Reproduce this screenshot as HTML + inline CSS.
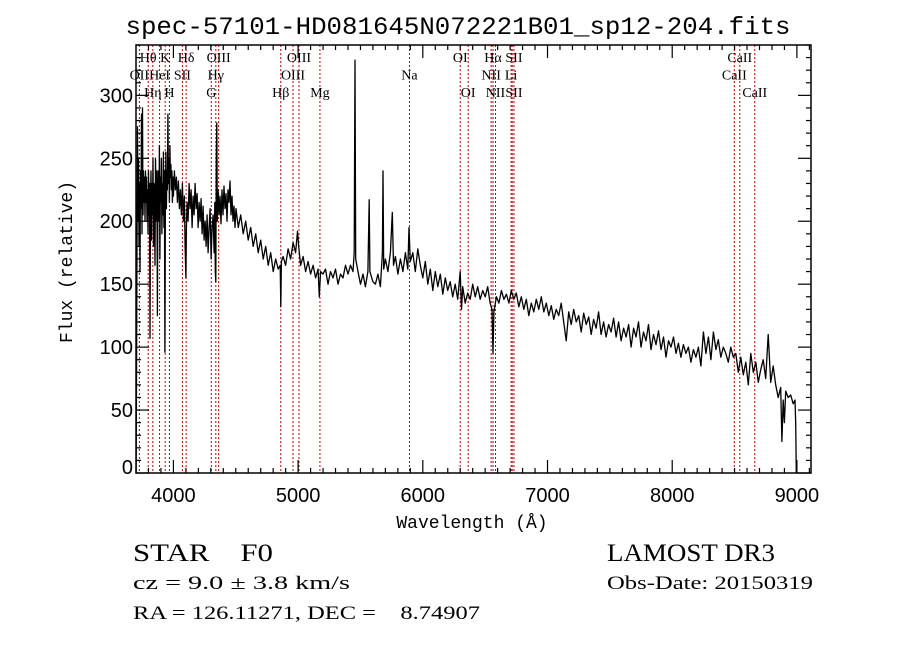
<!DOCTYPE html>
<html><head><meta charset="utf-8"><style>
html,body{margin:0;padding:0;background:#fff;width:900px;height:649px;overflow:hidden}
svg text{fill:#000}
.ser{font-family:"Liberation Serif",serif}
.san{font-family:"Liberation Sans",sans-serif}
.mon{font-family:"Liberation Mono",monospace}
</style></head><body>
<svg id="chart" width="900" height="649" viewBox="0 0 900 649" xmlns="http://www.w3.org/2000/svg">
<text class="mon" x="458" y="34" font-size="25" text-anchor="middle" textLength="665" lengthAdjust="spacingAndGlyphs">spec-57101-HD081645N072221B01_sp12-204.fits</text>
<g id="lines"></g>
<g id="labels"></g>
<path id="spec" fill="none" stroke="#000" stroke-width="1.3" stroke-linejoin="round"/>
<g id="axes"></g>
<rect x="136" y="45" width="675" height="428" fill="none" stroke="#000" stroke-width="1.5"/>
<text class="mon" x="472" y="528" font-size="18" text-anchor="middle">Wavelength (Å)</text>
<text class="mon" font-size="18" text-anchor="middle" transform="translate(72,262) rotate(-90)">Flux (relative)</text>
<text class="ser" x="133" y="561" font-size="25" xml:space="preserve" textLength="140" lengthAdjust="spacingAndGlyphs">STAR    F0</text>
<text class="ser" x="607" y="561" font-size="25" textLength="168" lengthAdjust="spacingAndGlyphs">LAMOST DR3</text>
<text class="ser" x="133" y="589" font-size="19" textLength="217" lengthAdjust="spacingAndGlyphs">cz = 9.0 ± 3.8 km/s</text>
<text class="ser" x="607" y="589" font-size="19" textLength="206" lengthAdjust="spacingAndGlyphs">Obs-Date: 20150319</text>
<text class="ser" x="133" y="619" font-size="19" xml:space="preserve" textLength="347" lengthAdjust="spacingAndGlyphs">RA = 126.11271, DEC =    8.74907</text>
</svg>
<script>
const lam = [3701,3704,3708,3712,3716,3720,3724,3728,3732,3736,3740,3744,3748,3752,3756,3760,3764,3768,3772,3776,3780,3784,3788,3792,3796,3800,3804,3808,3812,3816,3820,3824,3828,3832,3836,3840,3844,3848,3852,3856,3860,3864,3868,3872,3876,3880,3884,3888,3892,3896,3900,3904,3908,3912,3916,3920,3924,3928,3932,3936,3940,3944,3948,3952,3956,3960,3964,3968,3972,3976,3980,3984,3988,3992,3996,4000,4008,4016,4024,4032,4040,4048,4056,4064,4072,4080,4088,4094,4100,4104,4110,4118,4126,4134,4142,4150,4158,4166,4174,4182,4190,4198,4206,4214,4222,4230,4238,4246,4254,4262,4270,4278,4286,4294,4302,4310,4318,4326,4332,4336,4340,4344,4348,4352,4358,4366,4374,4382,4390,4398,4406,4414,4422,4430,4438,4446,4454,4462,4470,4478,4486,4494,4502,4520,4540,4560,4580,4600,4620,4640,4660,4680,4700,4720,4740,4760,4780,4800,4820,4840,4856,4861,4866,4880,4900,4920,4940,4960,4980,4995,5005,5020,5040,5060,5080,5100,5120,5140,5160,5170,5180,5200,5220,5240,5260,5280,5300,5320,5340,5360,5380,5400,5420,5440,5450,5456,5462,5480,5500,5520,5540,5560,5570,5576,5600,5620,5640,5660,5676,5681,5686,5700,5720,5740,5755,5765,5780,5800,5820,5840,5860,5880,5889,5900,5920,5940,5960,5980,6000,6020,6040,6060,6080,6100,6120,6140,6160,6180,6200,6220,6240,6260,6280,6300,6310,6320,6340,6360,6380,6400,6420,6440,6460,6480,6500,6520,6540,6555,6563,6570,6590,6610,6630,6650,6670,6690,6710,6730,6750,6770,6790,6810,6830,6850,6870,6890,6910,6930,6950,6970,6990,7010,7030,7050,7070,7090,7110,7130,7150,7170,7190,7210,7230,7250,7270,7290,7310,7330,7350,7370,7390,7410,7430,7450,7470,7490,7510,7530,7550,7570,7590,7610,7630,7650,7670,7690,7710,7730,7750,7770,7790,7810,7830,7850,7870,7890,7910,7930,7950,7970,7990,8010,8030,8050,8070,8090,8110,8130,8150,8170,8190,8210,8230,8250,8270,8290,8310,8330,8350,8370,8390,8410,8430,8450,8470,8490,8510,8530,8550,8570,8590,8610,8630,8650,8670,8690,8710,8730,8750,8770,8790,8810,8830,8850,8870,8880,8890,8900,8910,8930,8950,8970,8985,8990,8995];
const flux = [0,72,180,275,200,250,180,230,160,240,210,285,190,290,205,240,215,235,200,240,215,235,200,225,190,240,205,230,107,215,240,185,230,205,250,180,230,215,165,250,225,200,240,125,220,240,200,260,170,235,215,250,190,230,205,255,195,240,96,220,255,210,240,225,285,230,250,215,260,235,245,225,240,215,235,220,240,225,235,215,232,210,225,205,230,200,220,180,155,195,215,200,230,210,225,195,220,205,230,210,222,195,215,200,218,190,212,185,200,180,205,175,195,210,170,195,205,175,215,160,152,250,278,200,225,205,220,198,225,205,228,210,222,200,225,215,232,205,220,200,212,195,210,195,205,190,200,185,195,180,190,175,185,170,180,165,175,160,170,162,165,132,168,172,165,178,170,183,175,192,180,165,172,160,168,158,165,155,162,140,160,158,162,150,160,155,162,150,158,155,165,158,165,160,175,328,170,160,150,158,148,160,217,160,152,150,158,148,175,240,162,170,160,175,207,165,172,158,170,160,175,162,195,168,175,160,178,165,155,168,150,162,145,160,148,158,142,155,145,152,140,150,138,160,130,148,135,143,138,150,140,148,138,145,140,148,135,130,95,128,140,135,145,138,142,135,145,138,143,132,140,130,138,125,135,128,138,130,140,128,135,125,133,122,130,125,135,120,105,128,118,130,120,125,112,127,118,124,110,122,115,128,110,120,108,118,112,123,108,120,105,115,108,118,100,115,108,120,100,112,105,118,98,110,102,113,98,108,92,105,100,108,95,103,92,102,95,100,88,98,92,100,85,112,95,108,90,112,98,106,92,100,95,88,100,92,95,80,92,78,88,70,95,80,88,72,82,90,75,110,72,85,70,60,68,25,58,40,65,60,62,55,58,40,0];
const lineWaves = [3727,3798,3835,3889,3934,3968,4072,4102,4304,4340,4363,4861,4959,5007,5175,5893,6300,6364,6548,6563,6583,6708,6717,6731,8498,8542,8662];
const labelTexts = ["Hθ","K","Hδ","OIII","OIII","OI","Hα","SII","CaII","OII","HeI","SII","Hγ","OIII","Na","NII","Li","CaII","Hη","H","G","Hβ","Mg","OI","NII","SII","CaII"];
const labelWaves = [3798,3934,4102,4363,5007,6300,6563,6731,8542,3727,3889,4072,4340,4959,5893,6548,6708,8498,3835,3968,4304,4861,5175,6364,6583,6731,8662];
const labelRows = [0,0,0,0,0,0,0,0,0,1,1,1,1,1,1,1,1,1,2,2,2,2,2,2,2,2,2];
const yTicks = [0,50,100,150,200,250,300];
const xTicks = [4000,5000,6000,7000,8000,9000];

const X0=136,X1=811,Y0=473,Y1=45,LMIN=3700,LMAX=9113,FMIN=0,FMAX=340;
const xs = l => X0+(l-LMIN)/(LMAX-LMIN)*(X1-X0);
const ys = f => Y0-(f-FMIN)/(FMAX-FMIN)*(Y0-Y1);
const NS="http://www.w3.org/2000/svg";
function mk(tag,parent){const e=document.createElementNS(NS,tag);parent.appendChild(e);return e;}

let d="";
lam.forEach((l,i)=>{d+=(i?"L":"M")+xs(l).toFixed(1)+","+ys(flux[i]).toFixed(1);});
document.getElementById("spec").setAttribute("d",d);

const gl=document.getElementById("lines");
lineWaves.forEach(w=>{
  const e=mk("line",gl);
  
  
  e.setAttribute("x1",xs(w));e.setAttribute("x2",xs(w));
  e.setAttribute("y1",Y1);e.setAttribute("y2",Y0);
  e.setAttribute("stroke","#c00000");e.setAttribute("stroke-width","1");
  e.setAttribute("stroke-dasharray","2,2");
});
const glb=document.getElementById("labels");
labelTexts.forEach((t,i)=>{
  const e=mk("text",glb);
  
  
  e.setAttribute("class","ser");
  e.setAttribute("font-size","14");
  e.setAttribute("text-anchor","middle");
  e.setAttribute("x",xs(labelWaves[i]));
  e.setAttribute("y",62+labelRows[i]*17.5);
  e.textContent=t;
});

const ga=document.getElementById("axes");
function tick(x1,y1,x2,y2){const e=mk("line",ga);
  
  
  e.setAttribute("x1",x1);e.setAttribute("y1",y1);e.setAttribute("x2",x2);e.setAttribute("y2",y2);
  e.setAttribute("stroke","#000");e.setAttribute("stroke-width","1.2");}
for(let f=0;f<=FMAX;f+=10){const y=ys(f);const L=(f%50===0)?13:5;tick(X0,y,X0+L,y);tick(X1,y,X1-L,y);}
for(let l=3800;l<=LMAX;l+=100){const x=xs(l);const L=(l%1000===0)?13:5;tick(x,Y0,x,Y0-L);tick(x,Y1,x,Y1+L);}
yTicks.forEach(v=>{const e=mk("text",ga);
  
  
  e.setAttribute("class","san");e.setAttribute("font-size","20");e.setAttribute("text-anchor","end");
  e.setAttribute("x",133);e.setAttribute("y",(v===0?ys(v)-6:ys(v))+7);e.textContent=v;});
xTicks.forEach(v=>{const e=mk("text",ga);
  
  
  e.setAttribute("class","san");e.setAttribute("font-size","20");e.setAttribute("text-anchor","middle");
  e.setAttribute("x",xs(v));e.setAttribute("y",502);e.textContent=v;});
</script>
</body></html>
